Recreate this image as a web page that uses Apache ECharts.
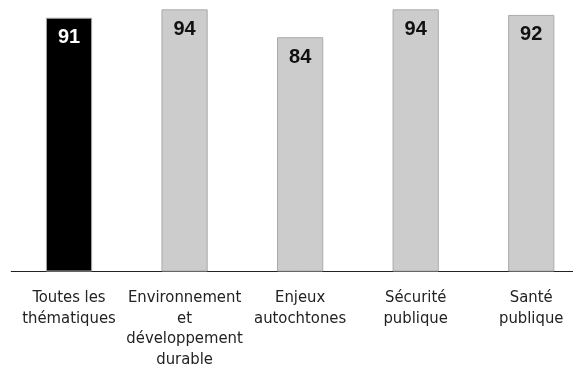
<!DOCTYPE html>
<html>
<head>
<meta charset="utf-8">
<script src="https://cdn.jsdelivr.net/npm/echarts@6/dist/echarts.min.js"></script>
<style>
  html, body { margin: 0; padding: 0; background: #ffffff; overflow: hidden; }
  /* the plot runs slightly past the right edge of the window */
  #chart { width: 589px; height: 370px; }
</style>
</head>
<body>
<div id="chart"></div>
<script>
// Thematic categories along the x axis
const categories = [
  'Toutes les\nthématiques',
  'Environnement\net\ndéveloppement\ndurable',
  'Enjeux\nautochtones',
  'Sécurité\npublique',
  'Santé\npublique'
];
// Score for each category
const values = [91, 94, 84, 94, 92];
// Fill colours: the overall figure in black, the themes in grey
const barColors = ['#000000', '#cccccc', '#cccccc', '#cccccc', '#cccccc'];
const labelColors = ['#ffffff', '#111111', '#111111', '#111111', '#111111'];

const CAT_FONT = '"DejaVu Sans Condensed", "Liberation Sans", sans-serif';
const VAL_FONT = '"Liberation Sans", "DejaVu Sans Condensed", sans-serif';

const chart = echarts.init(document.getElementById('chart'), null, { renderer: 'canvas' });

chart.setOption({
  animation: false,
  backgroundColor: '#ffffff',
  grid: { left: 11.25, right: 0, top: 0, bottom: 98.5, containLabel: false },
  xAxis: {
    type: 'category',
    data: categories,
    axisLine: { show: true, lineStyle: { color: '#222222', width: 1 } },
    axisTick: { show: false },
    axisLabel: {
      interval: 0,
      margin: 16,
      color: '#222222',
      fontFamily: CAT_FONT,
      fontSize: 16.5,
      lineHeight: 20.5
    }
  },
  yAxis: {
    type: 'value',
    min: 0,
    max: 97.35,
    show: false,
    splitLine: { show: false }
  },
  series: [{
    type: 'bar',
    barWidth: '40%',
    data: values.map((v, i) => ({
      value: v,
      itemStyle: { color: barColors[i], borderColor: '#aaaaaa', borderWidth: 1 },
      label: { color: labelColors[i] }
    })),
    label: {
      show: true,
      position: 'insideTop',
      distance: 10,
      fontFamily: VAL_FONT,
      fontWeight: 'bold',
      fontSize: 20
    }
  }]
});
</script>
</body>
</html>
